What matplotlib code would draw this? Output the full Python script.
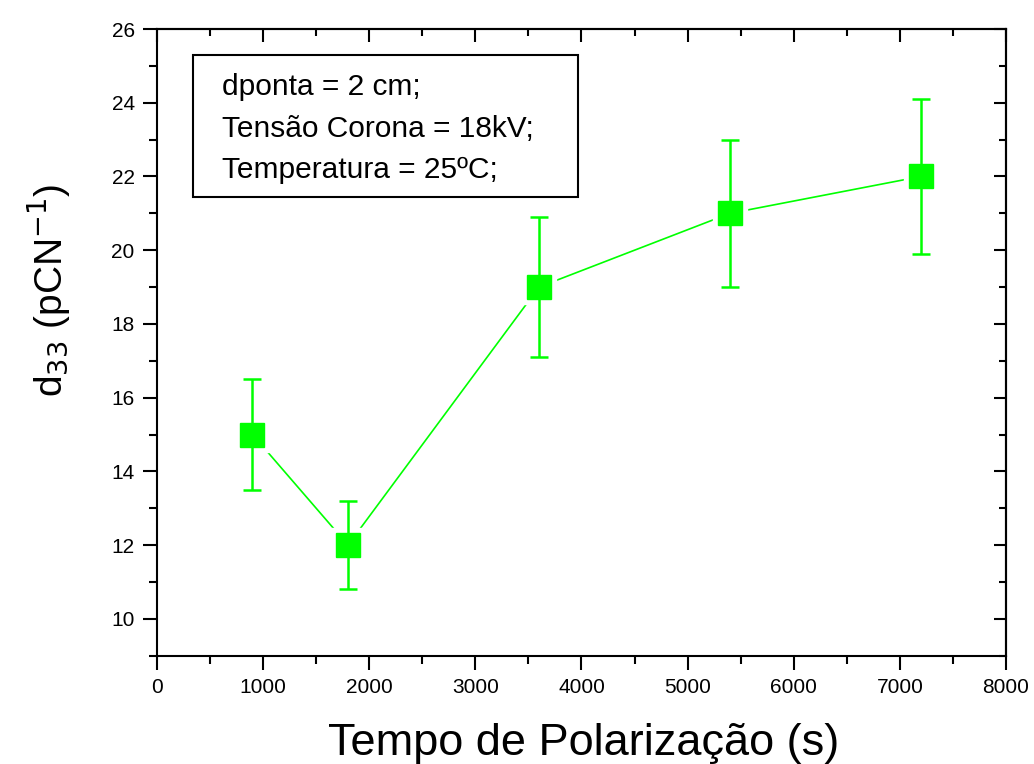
import matplotlib
matplotlib.use("Agg")
import matplotlib.pyplot as plt
from matplotlib.patches import Rectangle
from matplotlib.ticker import MultipleLocator

plt.rcParams['font.family'] = ['Liberation Sans', 'DejaVu Sans']

# Polarization time (s) and measured d33 with uncertainties
tempo = [900, 1800, 3600, 5400, 7200]
d33 = [15.0, 12.0, 19.0, 21.0, 22.0]
erro = [1.5, 1.2, 1.9, 2.0, 2.1]

info_lines = ["dponta = 2 cm;", "Tensão Corona = 18kV;", "Temperatura = 25ºC;"]

green = '#00FF00'

fig = plt.figure(figsize=(10.34, 7.64), dpi=100)
ax = fig.add_axes([0.1518, 0.1418, 0.8211, 0.8202])

# connecting line, with gaps cut around markers by white squares
ax.plot(tempo, d33, color=green, lw=1.2, zorder=2)
ax.plot(tempo, d33, ls='none', marker='s', ms=25, mfc='white', mec='white', zorder=3)
ax.errorbar(tempo, d33, yerr=erro, fmt='none', ecolor=green, elinewidth=1.8,
            capsize=6.5, capthick=1.8, zorder=4)
ax.plot(tempo, d33, ls='none', marker='s', ms=17.5, mfc=green, mec=green, zorder=5)

ax.set_xlim(0, 8000)
ax.set_ylim(9, 26)
ax.xaxis.set_major_locator(MultipleLocator(1000))
ax.xaxis.set_minor_locator(MultipleLocator(500))
ax.yaxis.set_major_locator(MultipleLocator(2))
ax.yaxis.set_minor_locator(MultipleLocator(1))
ax.set_yticks([10, 12, 14, 16, 18, 20, 22, 24, 26])

for sp in ax.spines.values():
    sp.set_linewidth(1.5)

ax.tick_params(which='major', direction='out', length=10, width=1.5,
               labelsize=15, pad=6, top=False, right=False)
ax.tick_params(which='minor', direction='out', length=6, width=1.5,
               top=False, right=False)

# inward ticks on the top and right edges
top = ax.secondary_xaxis('top')
top.xaxis.set_major_locator(MultipleLocator(1000))
top.xaxis.set_minor_locator(MultipleLocator(500))
top.tick_params(which='major', direction='in', length=9, width=1.5, labeltop=False)
top.tick_params(which='minor', direction='in', length=5, width=1.5)
top.spines['top'].set_linewidth(1.5)
right = ax.secondary_yaxis('right')
right.yaxis.set_major_locator(MultipleLocator(2))
right.yaxis.set_minor_locator(MultipleLocator(1))
right.tick_params(which='major', direction='in', length=9, width=1.5, labelright=False)
right.tick_params(which='minor', direction='in', length=5, width=1.5)
right.spines['right'].set_linewidth(1.5)

ax.set_xlabel('Tempo de Polarização (s)', fontsize=32.5)
ax.xaxis.set_label_coords(0.503, -0.108)
ax.set_ylabel('d$_{33}$ (pCN$^{-1}$)', fontsize=28)
ax.yaxis.set_label_coords(-0.100, 0.5835)

# annotation box with experimental conditions
ax.add_patch(Rectangle((340, 21.45), 3627, 3.85, transform=ax.transData,
                       fill=False, ec='black', lw=1.5, zorder=6))
for i, line in enumerate(info_lines):
    ax.text(610, 24.42 - i * 1.12, line, fontsize=21.5, va='center', ha='left', zorder=7)

fig.savefig('out.png', dpi=100)
